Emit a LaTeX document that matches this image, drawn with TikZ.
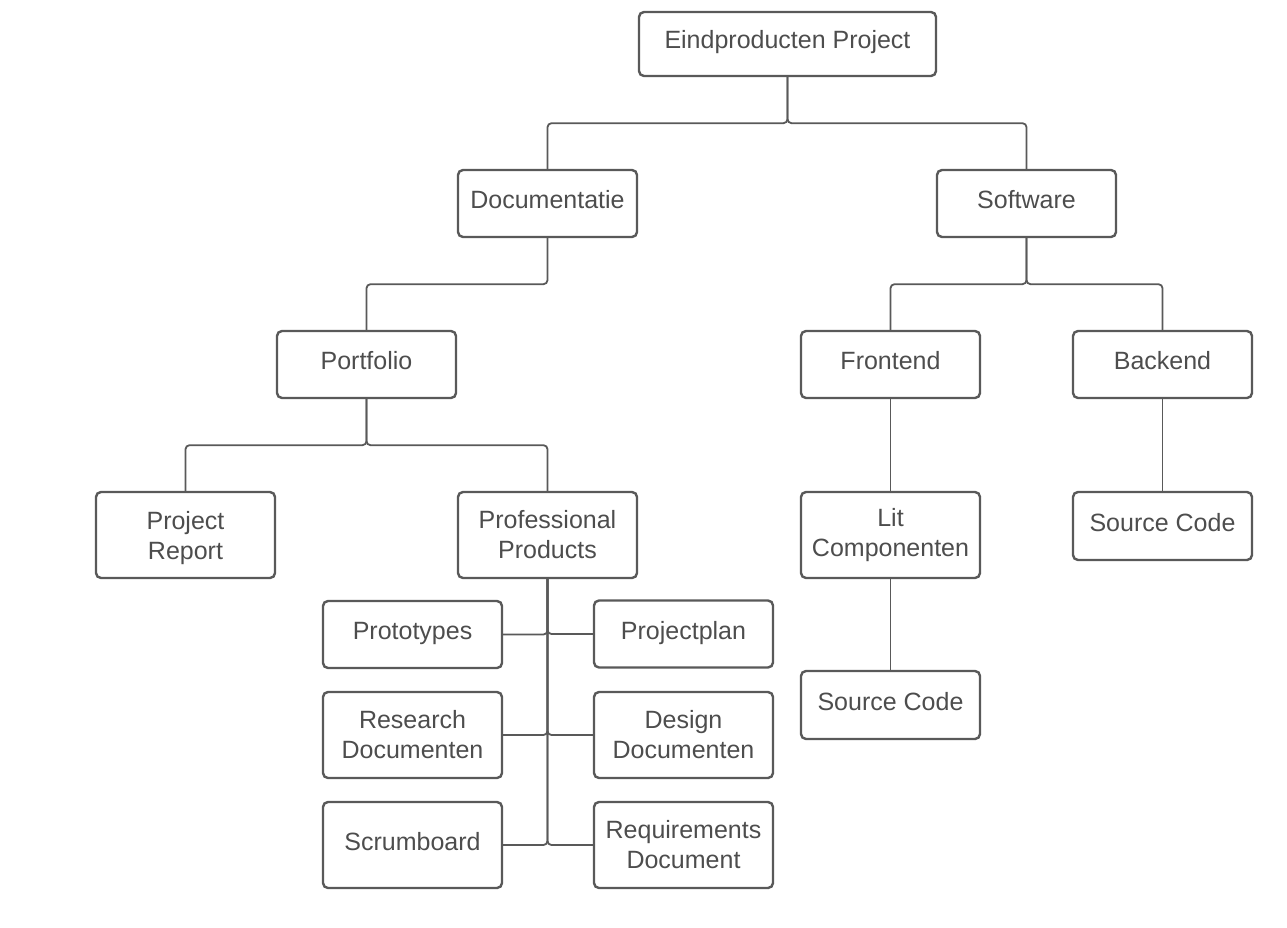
\documentclass[tikz,border=0pt]{standalone}
\usepackage{fontspec}
\setmainfont{Liberation Sans}
\usetikzlibrary{positioning}
\definecolor{boxline}{HTML}{595959}
\definecolor{boxtext}{HTML}{4D4D4D}
\tikzset{
    basic/.style = {draw=boxline, text=boxtext, line width=2.4pt, rounded corners=5pt, rectangle, align=center, inner sep=0pt, font=\fontsize{25}{30}\selectfont},
    one line/.style = {text height=18pt, text depth=8pt},
    wide/.style  = {basic, one line, minimum width=297pt, minimum height=64pt},
    small/.style = {basic, one line, minimum width=179pt, minimum height=67pt},
    tall/.style  = {basic, minimum width=179pt, minimum height=86pt},
    link/.style  = {draw=boxline, line width=1.8pt, rounded corners=4pt}
}
\begin{document}
\begin{tikzpicture}[x=1pt, y=-1pt]
    \useasboundingbox (0,0) rectangle (1287,928);
    % top levels
    \node[wide]  (eind)   at (787.5,44)    {Eindproducten Project};
    \node[small] (doc)    at (547.5,203.5) {Documentatie};
    \node[small] (soft)   at (1026.5,203.5) {Software};
    \node[small] (port)   at (366.5,364.5) {Portfolio};
    \node[small] (front)  at (890.5,364.5) {Frontend};
    \node[small] (back)   at (1162.5,364.5) {Backend};
    \node[tall, text depth=0pt] (report) at (185.5,535) {Project\\Report};
    \node[tall]  (prof)   at (547.5,535)   {Professional\\Products};
    \node[tall]  (lit)    at (890.5,535)   {Lit\\Componenten};
    \node[small, minimum height=68pt] (codeb) at (1162.5,526) {Source Code};
    \node[small, minimum height=68pt] (codef) at (890.5,705)  {Source Code};
    % professional products
    \node[small] (proto)  at (412.5,634.5) {Prototypes};
    \node[small] (plan)   at (683.5,634)   {Projectplan};
    \node[tall]  (res)    at (412.5,735)   {Research\\Documenten};
    \node[tall]  (design) at (683.5,735)   {Design\\Documenten};
    \node[tall, one line] (scrum) at (412.5,845) {Scrumboard};
    \node[tall]  (req)    at (683.5,845)   {Requirements\\Document};
    % connectors
    \draw[link] (eind.south) -- ++(0,46) -| (doc.north);
    \draw[link] (eind.south) -- ++(0,46) -| (soft.north);
    \draw[link] (doc.south) -- ++(0,46) -| (port.north);
    \draw[link] (soft.south) -- ++(0,46) -| (front.north);
    \draw[link] (soft.south) -- ++(0,46) -| (back.north);
    \draw[link] (port.south) -- ++(0,46) -| (report.north);
    \draw[link] (port.south) -- ++(0,46) -| (prof.north);
    \draw[link] (front) -- (lit);
    \draw[link] (back) -- (codeb);
    \draw[link] (lit) -- (codef);
    \foreach \leaf in {proto,plan,res,design,scrum,req}
        \draw[link] (prof.south) |- (\leaf);
\end{tikzpicture}
\end{document}
